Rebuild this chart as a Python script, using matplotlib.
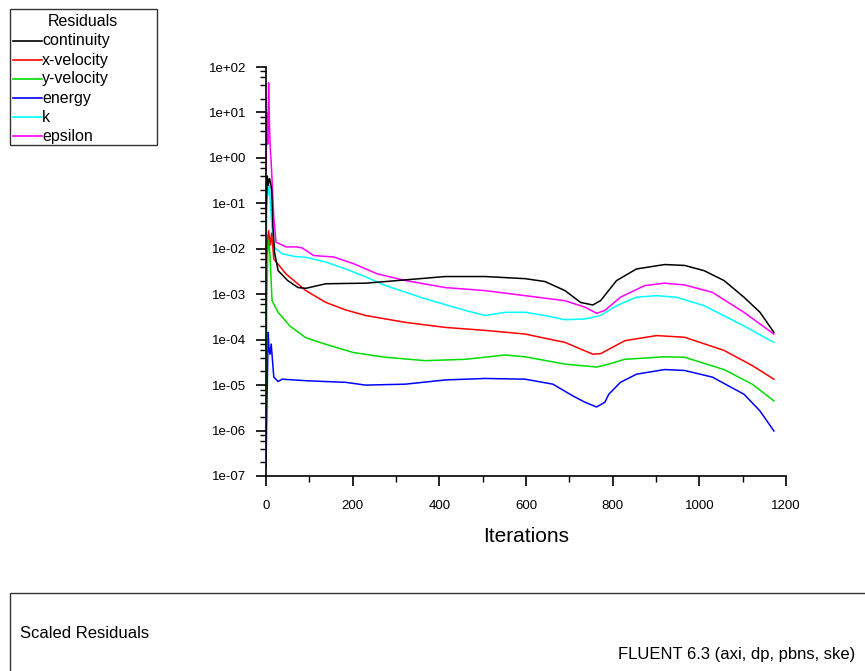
import numpy as np
import matplotlib
matplotlib.use("Agg")
import matplotlib.pyplot as plt
from matplotlib.lines import Line2D
from matplotlib.patches import Rectangle
from matplotlib.ticker import LogLocator, FuncFormatter, MultipleLocator

plt.rcParams['font.family'] = ['Liberation Sans', 'DejaVu Sans']

# residual histories (iteration, value)
cont_it = [0, 3, 5, 8, 10, 13, 16, 20, 28, 50, 74, 92, 138, 230, 276, 322, 414, 506, 598, 644,
           690, 726, 754, 772, 809, 855, 920, 966, 1011, 1057, 1103, 1140, 1172]
cont_val = [0.05, 0.4, 0.25, 0.35, 0.3, 0.2, 0.03, 8e-3, 3.3e-3, 2e-3, 1.4e-3, 1.35e-3, 1.7e-3, 1.75e-3,
            1.9e-3, 2.07e-3, 2.45e-3, 2.45e-3, 2.2e-3, 1.9e-3, 1.2e-3, 6.6e-4, 5.8e-4, 7.2e-4, 2e-3,
            3.6e-3, 4.5e-3, 4.3e-3, 3.3e-3, 2e-3, 8.6e-4, 4e-4, 1.45e-4]

xvel_it = [0, 3, 6, 10, 13, 18, 46, 92, 138, 184, 230, 322, 414, 506, 598, 690, 754, 772, 828,
           901, 966, 1057, 1122, 1172]
xvel_val = [5e-3, 1.4e-2, 2.5e-2, 1.2e-2, 2.2e-2, 6e-3, 2.8e-3, 1.2e-3, 6.6e-4, 4.5e-4, 3.4e-4,
            2.4e-4, 1.86e-4, 1.6e-4, 1.33e-4, 8.7e-5, 4.8e-5, 4.9e-5, 9.5e-5, 1.23e-4, 1.13e-4,
            5.8e-5, 2.7e-5, 1.35e-5]

yvel_it = [0, 2, 5, 9, 14, 28, 55, 92, 138, 202, 276, 368, 460, 552, 598, 690, 763, 791, 828,
           920, 966, 1057, 1122, 1172]
yvel_val = [4e-6, 1e-3, 2e-2, 7.8e-3, 7.2e-4, 4e-4, 2e-4, 1.1e-4, 7.9e-5, 5.2e-5, 4.1e-5, 3.45e-5,
            3.7e-5, 4.6e-5, 4.2e-5, 2.9e-5, 2.5e-5, 2.9e-5, 3.7e-5, 4.2e-5, 4.1e-5, 2.2e-5, 1.05e-5,
            4.5e-6]

energy_it = [0, 2, 5, 7, 9, 12, 18, 28, 37, 92, 184, 230, 322, 414, 506, 598, 662, 708, 736, 763,
             782, 791, 818, 855, 920, 966, 1030, 1103, 1140, 1172]
energy_val = [1.5e-7, 3e-6, 1.45e-4, 6e-5, 4.8e-5, 8e-5, 1.5e-5, 1.2e-5, 1.35e-5, 1.25e-5, 1.15e-5,
              1.0e-5, 1.05e-5, 1.3e-5, 1.4e-5, 1.35e-5, 1.05e-5, 5.8e-6, 4.2e-6, 3.3e-6, 4.2e-6,
              6.3e-6, 1.15e-5, 1.74e-5, 2.2e-5, 2.1e-5, 1.5e-5, 6.3e-6, 2.7e-6, 9.8e-7]

k_it = [0, 3, 5, 8, 12, 18, 37, 64, 92, 138, 184, 230, 276, 368, 460, 506, 552, 598, 644, 690, 736,
        772, 809, 855, 901, 947, 1011, 1103, 1172]
k_val = [5e-3, 0.3, 0.15, 0.25, 0.05, 1.1e-2, 7.8e-3, 6.8e-3, 6.5e-3, 5.1e-3, 3.6e-3, 2.4e-3,
         1.55e-3, 7.9e-4, 4.4e-4, 3.4e-4, 4e-4, 4e-4, 3.4e-4, 2.75e-4, 2.85e-4, 3.4e-4, 5.6e-4,
         8.6e-4, 9.3e-4, 8.6e-4, 5.6e-4, 2e-4, 8.7e-5]

eps_it = [0, 2, 4, 6, 8, 10, 12, 15, 18, 23, 46, 69, 83, 110, 156, 202, 257, 322, 414, 506, 598,
          690, 736, 763, 782, 818, 874, 920, 966, 1030, 1103, 1172]
eps_val = [0.5, 10, 2, 45, 5, 1.5, 0.8, 0.2, 0.05, 1.4e-2, 1.1e-2, 1.1e-2, 1.05e-2, 7.1e-3, 6.6e-3,
           4.7e-3, 2.8e-3, 2e-3, 1.4e-3, 1.2e-3, 9.3e-4, 7.2e-4, 5.2e-4, 3.8e-4, 4.4e-4, 8.6e-4,
           1.55e-3, 1.75e-3, 1.6e-3, 1.1e-3, 4e-4, 1.33e-4]

names = ['continuity', 'x-velocity', 'y-velocity', 'energy', 'k', 'epsilon']
colors = ['#000000', '#ff0000', '#00dd00', '#0000ff', '#00ffff', '#ff00ff']
series = [(cont_it, cont_val), (xvel_it, xvel_val), (yvel_it, yvel_val),
          (energy_it, energy_val), (k_it, k_val), (eps_it, eps_val)]

fig = plt.figure(figsize=(8.65, 6.71), dpi=100)
ax = fig.add_axes([266 / 865, 1 - 476 / 671, 520 / 865, 409 / 671])

# draw in reverse so continuity sits on top like the original
for (it, val), c in list(zip(series, colors))[::-1]:
    ax.plot(it, val, color=c, lw=1.1)

ax.set_yscale('log')
ax.set_ylim(1e-7, 1e2)
ax.set_xlim(0, 1200)
ax.spines['top'].set_visible(False)
ax.spines['right'].set_visible(False)
ax.spines['left'].set_linewidth(1.2)
ax.spines['bottom'].set_linewidth(1.2)
ax.yaxis.set_major_locator(LogLocator(base=10, numticks=20))
ax.yaxis.set_minor_locator(LogLocator(base=10, subs=[2, 4, 6, 8], numticks=20))
ax.yaxis.set_major_formatter(FuncFormatter(lambda v, p: f"{v:.0e}"))
ax.yaxis.set_minor_formatter(FuncFormatter(lambda v, p: ""))
ax.xaxis.set_major_locator(MultipleLocator(200))
ax.xaxis.set_minor_locator(MultipleLocator(100))
ax.tick_params(which='major', length=7, width=1.2, labelsize=9.5)
ax.tick_params(axis='y', which='major', pad=7)
ax.tick_params(axis='x', which='major', pad=10)
ax.tick_params(which='minor', length=4, width=1.0)
ax.set_xlabel('Iterations', fontsize=15, labelpad=11)

# legend box at the upper left
fig.patches.append(Rectangle((10 / 865, 1 - 145 / 671), 147 / 865, 136 / 671,
                             transform=fig.transFigure, fill=False, ec='#333333', lw=1.0))
fig.text(83 / 865, 1 - 21 / 671, 'Residuals', ha='center', va='center', fontsize=11.5)
for i, (n, c) in enumerate(zip(names, colors)):
    y = 1 - (41 + i * 19) / 671
    fig.add_artist(Line2D([13 / 865, 42 / 865], [y, y], color=c, lw=1.2,
                          transform=fig.transFigure))
    fig.text(42 / 865, y, n, ha='left', va='center', fontsize=11.5)

# title box at the bottom
fig.patches.append(Rectangle((10 / 865, -0.05), 870 / 865, 0.05 + 78 / 671,
                             transform=fig.transFigure, fill=False, ec='#333333', lw=1.0))
fig.text(20 / 865, 1 - 634 / 671, 'Scaled Residuals', ha='left', va='center', fontsize=12)
fig.text(855 / 865, 1 - 654 / 671, 'FLUENT 6.3 (axi, dp, pbns, ske)', ha='right',
         va='center', fontsize=12)

fig.savefig('out.png', dpi=100)
